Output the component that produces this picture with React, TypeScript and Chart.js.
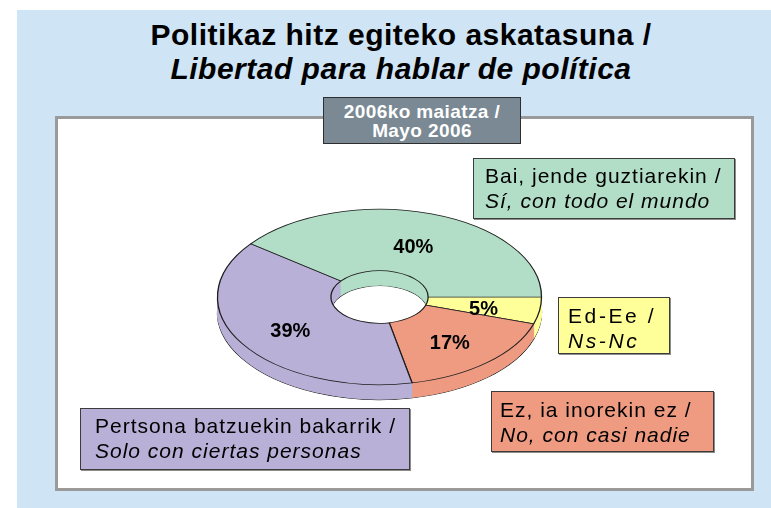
import React, { useEffect, useRef } from 'react';
import { Chart, registerables } from 'chart.js';

Chart.register(...registerables);

// ---- data ----
const categoriesEu = ['Ed-Ee /', 'Ez, ia inorekin ez /', 'Pertsona batzuekin bakarrik /', 'Bai, jende guztiarekin /'];
const categoriesEs = ['Ns-Nc', 'No, con casi nadie', 'Solo con ciertas personas', 'Sí, con todo el mundo'];
const values = [5, 17, 39, 40];
const sliceColors = ['#FFFF99', '#EE9B82', '#B9B0D7', '#B2DEC8'];
const titleLines = ['Politikaz hitz egiteko askatasuna /', 'Libertad para hablar de política'];
const periodLines = ['2006ko maiatza /', 'Mayo 2006'];

const TILT = 0.5415;
const DEPTH = 15;
const FONT = '"Liberation Sans", Arial, Helvetica, sans-serif';

const tiltPlugin = {
  id: 'tilt3d',
  beforeDatasetsDraw(chart: any) {
    const arcs = chart.getDatasetMeta(0).data;
    const ctx = chart.ctx;
    ctx.save();
    if (!arcs.length) return;
    const cy = arcs[0].y;
    ctx.translate(0, cy);
    ctx.scale(1, TILT);
    ctx.translate(0, -cy);
    const D = DEPTH / TILT;
    const drawLayer = (dy: number, outline: boolean) => {
      ctx.save();
      ctx.translate(0, dy);
      arcs.forEach((a: any) => {
        const f = Object.create(a);
        f.options = outline
          ? { ...a.options }
          : { ...a.options, borderColor: a.options.backgroundColor, borderWidth: 1 };
        f.draw(ctx);
      });
      ctx.restore();
    };
    drawLayer(D, true);
    for (let d = D - 1; d > 0; d -= 1) drawLayer(d, false);
  },
  afterDatasetsDraw(chart: any) {
    chart.ctx.restore();
  },
  afterDraw(chart: any) {
    const arcs = chart.getDatasetMeta(0).data;
    const ctx = chart.ctx;
    ctx.save();
    ctx.font = `bold 20px ${FONT}`;
    ctx.fillStyle = '#000';
    ctx.textAlign = 'center';
    ctx.textBaseline = 'middle';
    arcs.forEach((a: any, i: number) => {
      const p = a.tooltipPosition();
      const y = a.y + (p.y - a.y) * TILT + 4;
      ctx.fillText(`${values[i]}%`, p.x, y);
    });
    ctx.restore();
  },
};

type BoxProps = { left: number; top: number; width: number; height: number; bg: string; padL: number; padT: number; ls: number; line1: string; line2: string };

function LegendBox(p: BoxProps) {
  return (
    <div
      style={{
        position: 'absolute', left: p.left, top: p.top, width: p.width, height: p.height,
        boxSizing: 'border-box', background: p.bg, border: '1px solid #3c3c3c',
        boxShadow: '1px 1px 0 #8c8c8c', paddingLeft: p.padL, paddingTop: p.padT,
        fontFamily: FONT, fontSize: 21, lineHeight: '25px', letterSpacing: p.ls,
        color: '#000', whiteSpace: 'nowrap',
      }}
    >
      <div>{p.line1}</div>
      <div style={{ fontStyle: 'italic' }}>{p.line2}</div>
    </div>
  );
}

export default function App() {
  const ref = useRef<HTMLCanvasElement | null>(null);
  useEffect(() => {
    if (!ref.current) return;
    const chart = new Chart(ref.current, {
      type: 'doughnut',
      data: {
        labels: categoriesEs,
        datasets: [{
          data: values,
          backgroundColor: sliceColors,
          borderColor: '#1e1e1e',
          borderWidth: 1.3,
          clip: false,
        } as any],
      },
      options: {
        responsive: false,
        animation: false,
        events: [],
        rotation: 90,
        cutout: '30%',
        radius: 162,
        layout: { padding: { left: 217, right: 229, top: 135, bottom: 49 } },
        plugins: { legend: { display: false }, tooltip: { enabled: false } },
      } as any,
      plugins: [tiltPlugin as any],
    });
    return () => chart.destroy();
  }, []);

  return (
    <div style={{ position: 'absolute', left: 0, top: 0, width: 771, height: 508, overflow: 'hidden', background: '#fff' }}>
      <div style={{ position: 'absolute', left: 17, top: 10, width: 754, height: 498, background: '#CFE4F4' }} />
      <div style={{ position: 'absolute', left: 55, top: 116, width: 699, height: 375, boxSizing: 'border-box', background: '#fff', border: '3px solid #9A9A9A' }} />
      <div
        style={{
          position: 'absolute', left: 101, top: 18, width: 600, textAlign: 'center',
          fontFamily: FONT, fontWeight: 'bold', fontSize: 30, lineHeight: '34px', letterSpacing: 0.5, color: '#000', whiteSpace: 'nowrap',
        }}
      >
        <div>{titleLines[0]}</div>
        <div style={{ fontStyle: 'italic' }}>{titleLines[1]}</div>
      </div>
      <canvas ref={ref} width={771} height={508} style={{ position: 'absolute', left: 0, top: 0, width: 771, height: 508 }} />
      <div
        style={{
          position: 'absolute', left: 323, top: 97, width: 198, height: 47, boxSizing: 'border-box',
          background: '#7A8994', border: '1px solid #2e2e2e', paddingTop: 4, textAlign: 'center',
          fontFamily: FONT, fontWeight: 'bold', fontSize: 19, lineHeight: '19px', letterSpacing: 0.4, color: '#fff', whiteSpace: 'nowrap',
        }}
      >
        <div>{periodLines[0]}</div>
        <div>{periodLines[1]}</div>
      </div>
      <LegendBox left={473} top={158} width={262} height={61} bg={sliceColors[3]} padL={11} padT={4} ls={1} line1={categoriesEu[3]} line2={categoriesEs[3]} />
      <LegendBox left={558} top={297} width={112} height={57} bg={sliceColors[0]} padL={9} padT={5} ls={2.6} line1={categoriesEu[0]} line2={categoriesEs[0]} />
      <LegendBox left={491} top={391} width={223} height={61} bg={sliceColors[1]} padL={8} padT={5} ls={1} line1={categoriesEu[1]} line2={categoriesEs[1]} />
      <LegendBox left={80} top={408} width={330} height={62} bg={sliceColors[2]} padL={14} padT={4} ls={1} line1={categoriesEu[2]} line2={categoriesEs[2]} />
    </div>
  );
}
